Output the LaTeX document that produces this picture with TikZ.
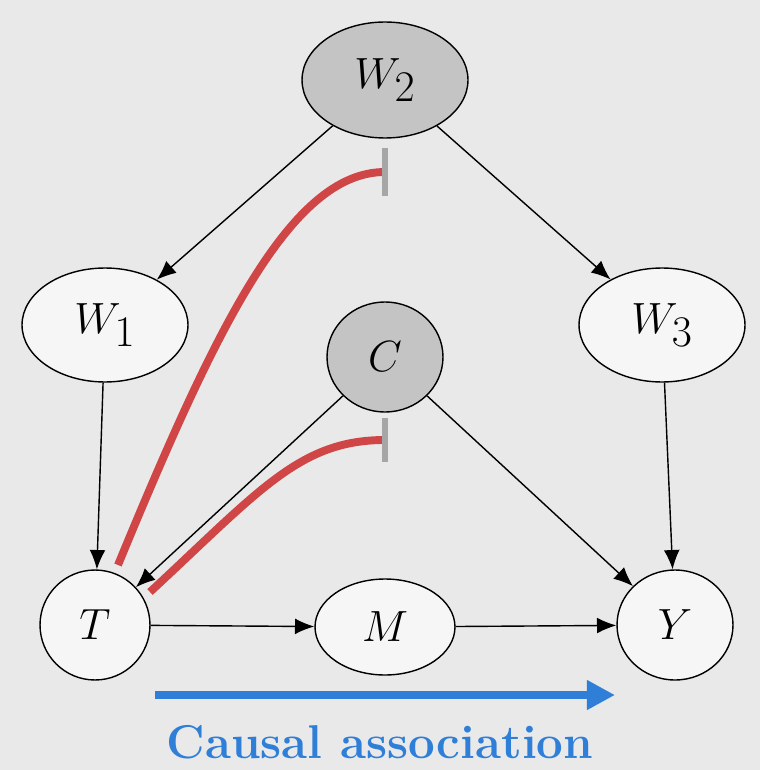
\documentclass[tikz,border=0pt]{standalone}
\usepackage{tikz}
\usetikzlibrary{arrows.meta}
\usetikzlibrary{shapes.geometric}
\definecolor{bggray}{HTML}{E9E9E9}
\definecolor{nodegray}{HTML}{C4C4C4}
\definecolor{redline}{HTML}{D04545}
\definecolor{blueline}{HTML}{2F7FD8}
\begin{document}
\begin{tikzpicture}[x=0.02cm,y=-0.02cm,
    var/.style={ellipse,draw,thick,fill=white!60!bggray,inner sep=0pt,font=\fontsize{34}{40}\selectfont},
    obs/.style={var,fill=nodegray},
    edge/.style={-{Latex[length=11pt,width=9pt]},thick},
    block/.style={redline,line width=4.5pt},
    bar/.style={gray!70,line width=3pt}]
  \fill[bggray] (0,0) rectangle (760,770);
  \useasboundingbox (0,0) rectangle (760,770);
  \node[obs,minimum width=3.32cm,minimum height=2.32cm] (W2) at (385,80) {$W_2$};
  \node[var,minimum width=3.32cm,minimum height=2.28cm] (W1) at (105,325) {$W_1$};
  \node[var,minimum width=3.32cm,minimum height=2.28cm] (W3) at (662,325) {$W_3$};
  \node[obs,minimum width=2.32cm,minimum height=2.2cm] (C) at (385,357) {$C$};
  \node[var,minimum width=2.2cm,minimum height=2.2cm] (T) at (95,625) {$T$};
  \node[var,minimum width=2.8cm,minimum height=1.92cm] (M) at (385,627) {$M$};
  \node[var,minimum width=2.32cm,minimum height=2.2cm] (Y) at (675,625) {$Y$};
  \draw[edge] (W2) -- (W1);
  \draw[edge] (W2) -- (W3);
  \draw[edge] (W1) -- (T);
  \draw[edge] (W3) -- (Y);
  \draw[edge] (C) -- (T);
  \draw[edge] (C) -- (Y);
  \draw[edge] (T) -- (M);
  \draw[edge] (M) -- (Y);
  % blocked paths
  \coordinate (b1) at (385,172);
  \coordinate (b2) at (385,440);
  \coordinate (s1) at (118,565);
  \coordinate (s2) at (150,592);
  \draw[block] (s1) .. controls (215,330) and (290,172) .. (b1);
  \draw[block] (s2) .. controls (260,490) and (300,440) .. (b2);
  \draw[bar] (385,148) -- (385,196);
  \draw[bar] (385,418) -- (385,462);
  % causal association arrow
  \coordinate (a1) at (155,695);
  \coordinate (a2) at (615,695);
  \draw[blueline,line width=5pt,-{Triangle[length=16pt,width=16pt]}] (a1) -- (a2);
  \node[text=blueline,font=\fontsize{27}{30}\selectfont\bfseries] (lab) at (380,742) {Causal association};
\end{tikzpicture}
\end{document}
